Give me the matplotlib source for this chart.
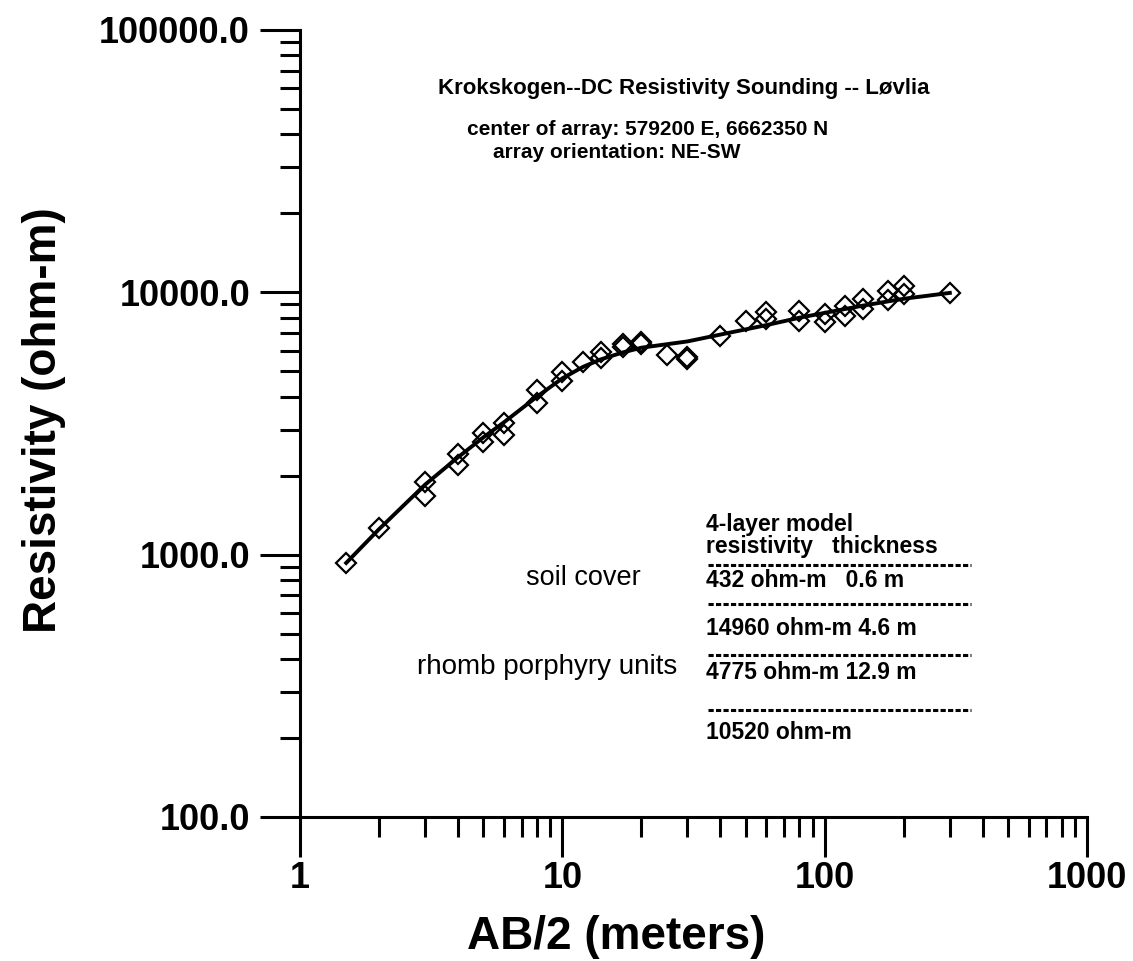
import matplotlib
matplotlib.use('Agg')
import matplotlib.pyplot as plt
from matplotlib.ticker import LogLocator, FormatStrFormatter, NullFormatter

plt.rcParams['font.family'] = ['Liberation Sans', 'DejaVu Sans']

# measured apparent resistivity (AB/2 in m, rho in ohm-m)
ab2 = [1.5, 2, 3, 3, 4, 4, 5, 5, 6, 6, 8, 8, 10, 10, 12, 14, 14, 17, 17,
       20, 20, 25, 30, 30, 40, 50, 60, 60, 80, 80, 100, 100, 120, 120,
       140, 140, 175, 175, 200, 200, 300]
rho = [930, 1260, 1900, 1670, 2430, 2190, 2920, 2680, 3190, 2850, 4230, 3770,
       4990, 4610, 5410, 5900, 5600, 6340, 6170, 6440, 6380, 5750, 5650, 5580,
       6790, 7750, 8390, 7890, 8460, 7750, 8240, 7680, 8840, 8100, 9400, 8610,
       10090, 9320, 10540, 9820, 9900]

# 4-layer model curve
model_ab2 = [1.5, 2, 3, 4, 5, 6, 8, 10, 12, 14, 17, 20, 30, 40, 60, 80,
             100, 140, 200, 300]
model_rho = [930, 1250, 1850, 2350, 2800, 3200, 4000, 4700, 5200, 5550, 5900,
             6150, 6500, 6900, 7500, 8000, 8350, 8900, 9450, 9950]

title_lines = ['Krokskogen--DC Resistivity Sounding -- L\u00f8vlia',
               'center of array: 579200 E, 6662350 N',
               'array orientation: NE-SW']
table_head = '4-layer model\nresistivity   thickness'
layer_lines = ['432 ohm-m   0.6 m', '14960 ohm-m 4.6 m', '4775 ohm-m 12.9 m',
               '10520 ohm-m']
unit_labels = ['soil cover', 'rhomb porphyry units']

fig = plt.figure(figsize=(11.33, 9.61), dpi=100)
ax = fig.add_axes([300 / 1133, 144 / 961, 787 / 1133, 787 / 961])

ax.plot(model_ab2, model_rho, color='black', lw=2.8, zorder=3)
ax.plot(ab2, rho, ls='none', marker='D', ms=10, mfc='none', mec='black',
        mew=1.6, zorder=2)

ax.set_xscale('log')
ax.set_yscale('log')
ax.set_xlim(1, 1000)
ax.set_ylim(100, 100000)

for axis in [ax.xaxis, ax.yaxis]:
    axis.set_major_locator(LogLocator(base=10))
    axis.set_minor_locator(LogLocator(base=10, subs=range(2, 10)))
    axis.set_minor_formatter(NullFormatter())
ax.xaxis.set_major_formatter(FormatStrFormatter('%d'))
ax.yaxis.set_major_formatter(FormatStrFormatter('%.1f'))

for side in ['top', 'right']:
    ax.spines[side].set_visible(False)
for side in ['left', 'bottom']:
    ax.spines[side].set_linewidth(2.2)

ax.tick_params(which='major', length=29, width=2.2, labelsize=26)
ax.tick_params(axis='y', which='major', pad=7)
ax.tick_params(axis='x', which='major', pad=3)
ax.tick_params(which='minor', length=14.5, width=2.2)
for lab in ax.get_xticklabels() + ax.get_yticklabels():
    lab.set_fontweight('bold')

ax.set_xlabel('AB/2 (meters)', fontsize=33, fontweight='bold')
ax.set_ylabel('Resistivity (ohm-m)', fontsize=33, fontweight='bold')
ax.xaxis.set_label_coords(0.4015, -0.125)
ax.yaxis.set_label_coords(-0.297, 0.504)

# header text
ax.text(0.487, 0.926, title_lines[0], transform=ax.transAxes, ha='center',
        va='center', fontsize=16, fontweight='bold')
ax.text(0.441, 0.873, title_lines[1], transform=ax.transAxes, ha='center',
        va='center', fontsize=15, fontweight='bold')
ax.text(0.403, 0.844, title_lines[2], transform=ax.transAxes, ha='center',
        va='center', fontsize=15, fontweight='bold')

# model table
ax.text(0.516, 0.358, table_head, transform=ax.transAxes, ha='left',
        va='center', fontsize=16.5, fontweight='bold', linespacing=0.95)
for line, y in zip(layer_lines, [0.301, 0.240, 0.183, 0.107]):
    ax.text(0.516, y, line, transform=ax.transAxes, ha='left', va='center',
            fontsize=16.5, fontweight='bold')
for y in [0.320, 0.271, 0.206, 0.136]:
    ax.plot([0.518, 0.852], [y, y], transform=ax.transAxes, color='black',
            lw=2.2, ls=(0, (1.7, 0.75)), solid_capstyle='butt')

ax.text(0.36, 0.304, unit_labels[0], transform=ax.transAxes, ha='center',
        va='center', fontsize=19.5)
ax.text(0.314, 0.191, unit_labels[1], transform=ax.transAxes, ha='center',
        va='center', fontsize=20)

fig.savefig('out.png', dpi=100)
